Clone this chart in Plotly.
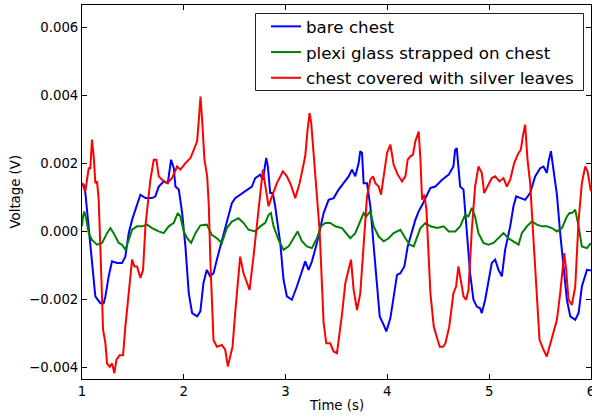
import plotly.graph_objects as go

# ---- data (time in s, voltage in V) ----
bare_t = [1.0, 1.016, 1.033, 1.066, 1.098, 1.131, 1.18, 1.213, 1.23, 1.262, 1.295, 1.344, 1.393, 1.426,
          1.459, 1.492, 1.525, 1.574, 1.623, 1.689, 1.721, 1.754, 1.803, 1.843, 1.875, 1.902, 1.918,
          1.951, 1.984, 2.016, 2.049, 2.082, 2.131, 2.163, 2.193, 2.226, 2.259, 2.292, 2.325, 2.374,
          2.423, 2.472, 2.505, 2.554, 2.620, 2.669, 2.702, 2.751, 2.777, 2.793, 2.810, 2.826, 2.849,
          2.875, 2.898, 2.948, 2.980, 3.013, 3.062, 3.111, 3.144, 3.193, 3.226, 3.259, 3.308, 3.341,
          3.374, 3.423, 3.472, 3.521, 3.570, 3.620, 3.652, 3.685, 3.718, 3.734, 3.751, 3.767, 3.800,
          3.833, 3.866, 3.898, 3.925, 3.964, 3.990, 4.030, 4.062, 4.095, 4.128, 4.167, 4.200, 4.275,
          4.308, 4.351, 4.423, 4.472, 4.538, 4.603, 4.649, 4.666, 4.682, 4.698, 4.715, 4.748, 4.780,
          4.813, 4.846, 4.879, 4.911, 4.928, 4.961, 4.993, 5.026, 5.059, 5.092, 5.125, 5.157, 5.207,
          5.239, 5.266, 5.305, 5.354, 5.403, 5.452, 5.502, 5.534, 5.567, 5.584, 5.607, 5.633, 5.666,
          5.698, 5.731, 5.764, 5.797, 5.846, 5.879, 5.911, 5.961, 6.0]
bare_v = [0.00142, 0.00137, 0.00113, 0.00005, -0.00103, -0.00191, -0.00211, -0.00211, -0.00191, -0.00132,
          -0.00088, -0.00093, -0.00093, -0.00074, -0.00005, 0.00034, 0.00064, 0.00108, 0.00098, 0.00098,
          0.00103, 0.00132, 0.00147, 0.00142, 0.00211, 0.00186, 0.00132, 0.00123, 0.00054, -0.00044,
          -0.00182, -0.00240, -0.00250, -0.00235, -0.00152, -0.00113, -0.00132, -0.00123, -0.00083,
          -0.00025, 0.00025, 0.00083, 0.00098, 0.00108, 0.00123, 0.00132, 0.00157, 0.00167, 0.00152,
          0.00182, 0.00216, 0.00191, 0.00113, 0.00113, 0.00074, -0.00034, -0.00142, -0.00191, -0.00201,
          -0.00162, -0.00132, -0.00088, -0.00113, -0.00088, -0.00034, 0.00010, 0.00054, 0.00093, 0.00098,
          0.00123, 0.00142, 0.00162, 0.00182, 0.00162, 0.00201, 0.00236, 0.00231, 0.00142, 0.00142,
          0.00074, -0.00044, -0.00162, -0.00250, -0.00275, -0.00294, -0.00255, -0.00191, -0.00128,
          -0.00123, -0.00103, -0.00044, 0.00034, 0.00059, 0.00083, 0.00128, 0.00132, 0.00152, 0.00167,
          0.00191, 0.00240, 0.00245, 0.00191, 0.00132, 0.00123, 0.00005, -0.00123, -0.00201, -0.00221,
          -0.00226, -0.00240, -0.00201, -0.00142, -0.00093, -0.00083, -0.00113, -0.00132, -0.00054,
          0.00015, 0.00074, 0.00103, 0.00098, 0.00093, 0.00113, 0.00162, 0.00186, 0.00191, 0.00172,
          0.00206, 0.00236, 0.00172, 0.00108, -0.00005, -0.00113, -0.00201, -0.00250, -0.00260, -0.00240,
          -0.00162, -0.00113, -0.00115]

plexi_t = [1.0, 1.010, 1.023, 1.043, 1.066, 1.098, 1.148, 1.197, 1.246, 1.279, 1.311, 1.361, 1.393, 1.426,
           1.459, 1.492, 1.541, 1.590, 1.639, 1.689, 1.754, 1.803, 1.852, 1.902, 1.941, 1.967, 2.0, 2.033,
           2.072, 2.115, 2.163, 2.226, 2.275, 2.325, 2.374, 2.423, 2.472, 2.538, 2.587, 2.636, 2.702,
           2.751, 2.800, 2.833, 2.856, 2.882, 2.931, 2.980, 3.030, 3.079, 3.118, 3.161, 3.210, 3.259,
           3.308, 3.348, 3.390, 3.439, 3.489, 3.554, 3.603, 3.636, 3.685, 3.728, 3.767, 3.793, 3.833,
           3.866, 3.915, 3.964, 4.013, 4.062, 4.128, 4.177, 4.220, 4.259, 4.292, 4.325, 4.374, 4.423,
           4.489, 4.554, 4.603, 4.666, 4.715, 4.764, 4.797, 4.830, 4.862, 4.895, 4.944, 4.993, 5.043,
           5.092, 5.141, 5.190, 5.256, 5.289, 5.321, 5.370, 5.420, 5.469, 5.518, 5.567, 5.616, 5.666,
           5.715, 5.764, 5.790, 5.813, 5.846, 5.879, 5.911, 5.961, 6.0]
plexi_v = [0.00015, 0.00044, 0.00059, 0.00034, -0.00005, -0.00025, -0.00039, -0.00034, -0.00005, 0.00010,
           -0.00005, -0.00034, -0.00039, -0.00054, -0.00025, 0.00005, 0.00015, 0.00015, 0.00020, 0.00010,
           0.00000, -0.00005, 0.00015, 0.00025, 0.00054, 0.00044, 0.00000, -0.00020, -0.00034, -0.00005,
           0.00018, 0.00020, -0.00010, -0.00020, -0.00034, 0.00010, 0.00029, 0.00039, 0.00025, 0.00005,
           0.00000, 0.00015, 0.00025, 0.00049, 0.00054, 0.00015, -0.00025, -0.00054, -0.00044, -0.00020,
           0.00000, -0.00029, -0.00044, -0.00049, -0.00020, 0.00015, 0.00025, 0.00025, 0.00015, 0.00010,
           -0.00010, -0.00020, -0.00005, 0.00025, 0.00054, 0.00044, 0.00059, 0.00015, -0.00015, -0.00029,
           -0.00020, -0.00005, 0.00005, -0.00020, -0.00039, -0.00044, -0.00015, 0.00010, 0.00025, 0.00015,
           0.00010, 0.00015, 0.00000, 0.00000, 0.00015, 0.00049, 0.00044, 0.00069, 0.00044, -0.00005,
           -0.00034, -0.00039, -0.00034, -0.00020, -0.00005, -0.00020, -0.00034, -0.00039, -0.00005,
           0.00015, 0.00029, 0.00020, 0.00015, 0.00015, 0.00010, 0.00000, 0.00010, 0.00044, 0.00054,
           0.00054, 0.00064, 0.00015, -0.00044, -0.00049, -0.00034]

silver_t = [1.0, 1.016, 1.033, 1.049, 1.066, 1.082, 1.098, 1.115, 1.131, 1.148, 1.164, 1.180, 1.207, 1.230,
            1.246, 1.272, 1.295, 1.318, 1.338, 1.370, 1.403, 1.426, 1.459, 1.492, 1.515, 1.541, 1.574,
            1.600, 1.623, 1.672, 1.705, 1.731, 1.754, 1.787, 1.836, 1.885, 1.934, 1.967, 2.016, 2.066,
            2.098, 2.131, 2.148, 2.164, 2.180, 2.203, 2.230, 2.246, 2.262, 2.292, 2.325, 2.374, 2.407,
            2.433, 2.456, 2.479, 2.505, 2.554, 2.587, 2.646, 2.685, 2.734, 2.777, 2.807, 2.833, 2.866,
            2.915, 2.974, 3.013, 3.052, 3.095, 3.138, 3.193, 3.216, 3.236, 3.252, 3.292, 3.334, 3.374,
            3.400, 3.439, 3.472, 3.505, 3.531, 3.554, 3.587, 3.620, 3.643, 3.669, 3.702, 3.734, 3.767,
            3.800, 3.833, 3.859, 3.882, 3.915, 3.938, 3.964, 3.997, 4.030, 4.062, 4.102, 4.144, 4.177,
            4.200, 4.226, 4.252, 4.275, 4.308, 4.325, 4.341, 4.364, 4.384, 4.423, 4.456, 4.489, 4.515,
            4.548, 4.570, 4.608, 4.649, 4.675, 4.698, 4.721, 4.748, 4.774, 4.797, 4.830, 4.862, 4.895,
            4.928, 4.951, 4.984, 5.026, 5.059, 5.102, 5.141, 5.174, 5.207, 5.246, 5.289, 5.311, 5.331,
            5.354, 5.377, 5.403, 5.430, 5.462, 5.495, 5.534, 5.567, 5.593, 5.633, 5.666, 5.698, 5.738,
            5.757, 5.780, 5.813, 5.846, 5.879, 5.911, 5.944, 5.967, 6.0]
silver_v = [0.00142, 0.00132, 0.00118, 0.00152, 0.00186, 0.00186, 0.00270, 0.00221, 0.00142, 0.00147,
            0.00093, -0.00044, -0.00289, -0.00329, -0.00388, -0.00398, -0.00388, -0.00417, -0.00378,
            -0.00364, -0.00364, -0.00280, -0.00191, -0.00083, -0.00103, -0.00103, -0.00137, -0.00113,
            0.00015, 0.00152, 0.00211, 0.00211, 0.00162, 0.00152, 0.00142, 0.00157, 0.00191, 0.00182,
            0.00201, 0.00216, 0.00240, 0.00265, 0.00329, 0.00397, 0.00329, 0.00211, 0.00162, 0.00074,
            -0.00093, -0.00319, -0.00339, -0.00334, -0.00348, -0.00397, -0.00368, -0.00339, -0.00240,
            -0.00074, -0.00123, -0.00172, -0.00074, 0.00054, 0.00182, 0.00123, 0.00074, 0.00103, 0.00142,
            0.00177, 0.00162, 0.00137, 0.00098, 0.00142, 0.00221, 0.00299, 0.00348, 0.00319, 0.00152,
            0.00005, -0.00270, -0.00329, -0.00329, -0.00353, -0.00358, -0.00299, -0.00245, -0.00152,
            -0.00113, -0.00083, -0.00172, -0.00231, -0.00182, -0.00025, 0.00103, 0.00152, 0.00162,
            0.00142, 0.00132, 0.00108, 0.00162, 0.00231, 0.00255, 0.00196, 0.00167, 0.00147, 0.00162,
            0.00211, 0.00221, 0.00226, 0.00265, 0.00294, 0.00211, 0.00093, 0.00108, 0.00064, -0.00182,
            -0.00280, -0.00314, -0.00339, -0.00339, -0.00329, -0.00280, -0.00182, -0.00162, -0.00103,
            -0.00142, -0.00191, -0.00201, -0.00172, 0.00005, 0.00132, 0.00191, 0.00172, 0.00113, 0.00132,
            0.00157, 0.00162, 0.00147, 0.00157, 0.00132, 0.00152, 0.00201, 0.00231, 0.00240, 0.00280,
            0.00314, 0.00211, 0.00142, 0.00005, -0.00162, -0.00319, -0.00348, -0.00368, -0.00339,
            -0.00299, -0.00260, -0.00182, -0.00064, -0.00113, -0.00201, -0.00216, -0.00162, 0.00034,
            0.00142, 0.00191, 0.00177, 0.00118]

series_names = ["bare chest", "plexi glass strapped on chest", "chest covered with silver leaves"]
series_colors = ["#0000ff", "#008000", "#ff0000"]

x_tickvals = [1, 2, 3, 4, 5, 6]
x_ticktext = ["1", "2", "3", "4", "5", "6"]
y_tickvals = [-0.004, -0.002, 0.0, 0.002, 0.004, 0.006]
y_ticktext = ["\u22120.004", "\u22120.002", "0.000", "0.002", "0.004", "0.006"]

FONT = "DejaVu Sans"

# plot area in pixels: x 82..591, y 5..379
PL, PR, PT, PB = 82, 591, 5, 379
W, H = 592, 417


def px_x(p):
    return (p - PL) / (PR - PL)


def px_y(p):
    return 1 - (p - PT) / (PB - PT)


fig = go.Figure()
for i, ((t, v), name, color) in enumerate(zip([(bare_t, bare_v), (plexi_t, plexi_v), (silver_t, silver_v)],
                                              series_names, series_colors)):
    fig.add_trace(go.Scatter(x=t, y=v, mode="lines", name=name, legendgroup=f"g{i}",
                             line=dict(color=color, width=2)))

axis_common = dict(showline=True, linecolor="black", linewidth=1, mirror="ticks",
                   ticks="inside", ticklen=5, tickwidth=1, tickcolor="black",
                   showgrid=False, zeroline=False, ticklabeloverflow="allow", automargin=False,
                   tickfont=dict(family=FONT, size=13.3, color="black"))

fig.update_layout(
    width=W, height=H,
    margin=dict(l=PL, r=W - PR, t=PT, b=H - PB, autoexpand=False),
    paper_bgcolor="white", plot_bgcolor="white",
    font=dict(family=FONT, size=13.3, color="black"),
    xaxis=dict(range=[1, 6.0008], tickvals=x_tickvals, ticktext=x_ticktext, **axis_common),
    yaxis=dict(range=[-0.00434, 0.00666], tickvals=y_tickvals, ticktext=y_ticktext, **axis_common),
    legend=dict(x=px_x(266), xanchor="left", y=px_y(9), yanchor="top",
                bgcolor="rgba(0,0,0,0)", borderwidth=0, tracegroupgap=1,
                font=dict(family=FONT, size=16.7, color="black")),
    showlegend=True,
    shapes=[dict(type="rect", xref="paper", yref="paper",
                 x0=px_x(255.5), x1=px_x(583.5), y0=px_y(90.5), y1=px_y(13.5),
                 fillcolor="white", line=dict(color="#222222", width=1), layer="above")],
    annotations=[
        dict(text="Time (s)", xref="paper", yref="paper", x=0.5, y=0, xanchor="center",
             yanchor="middle", yshift=-26, showarrow=False,
             font=dict(family=FONT, size=13.3, color="black")),
        dict(text="Voltage (V)", xref="paper", yref="paper", x=0, y=0.5, xanchor="center",
             yanchor="middle", xshift=-67.5, textangle=-90, showarrow=False,
             font=dict(family=FONT, size=13.3, color="black")),
    ],
)

fig.write_html("out.html")
